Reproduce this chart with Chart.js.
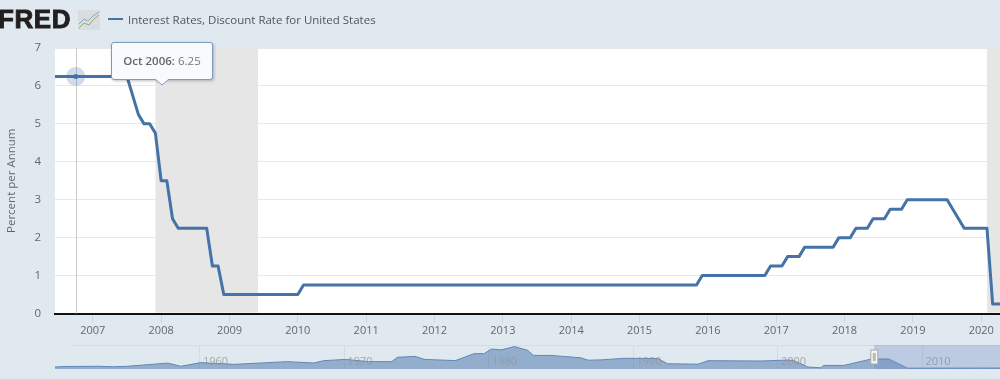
<!DOCTYPE html>
<html><head><meta charset="utf-8">
<style>
html,body{margin:0;padding:0;background:#e1e9f0;width:1000px;height:379px;overflow:hidden}
body{position:relative;font-family:"Open Sans",sans-serif}
canvas{position:absolute;left:0}
.abs{position:absolute;white-space:nowrap}
#logo{left:-2px;top:3px;font:bold 26px "Liberation Sans",sans-serif;line-height:32px;color:#231f20;letter-spacing:.6px;-webkit-text-stroke:.9px #231f20}
#legend{left:128px;top:11px;font-size:11.5px;line-height:17px;color:#555}
#swatch{left:108px;top:18px;width:15px;height:2px;background:#4572a7}
#tip{left:111px;top:42px;width:100px;height:36px;background:#f9fafb;border:1px solid #7d9bc2;border-radius:3px;box-shadow:1px 1px 3px rgba(0,0,0,.25);font-size:11.5px;line-height:35px;color:#777;text-align:center;box-sizing:content-box}
#tip b{font-weight:600;color:#666}
#tipArrow{left:155px;top:74px}
</style></head><body>
<canvas id="main" width="1000" height="379" style="top:0;width:1000px;height:379px"></canvas>
<canvas id="nav" width="1000" height="39" style="top:340px;width:1000px;height:39px"></canvas>
<div class="abs" id="logo">FRED</div>
<svg class="abs" style="left:78px;top:10px" width="22" height="20"><rect width="22" height="20" fill="#d9dde0"/><polyline points="1,14 6,9 10,11 15,6 21,2" fill="none" stroke="#8fa9c4" stroke-width="1"/><polyline points="1,18 6,13 11,15 16,9 21,5" fill="none" stroke="#8fb06a" stroke-width="1"/></svg>
<div class="abs" id="swatch"></div>
<div class="abs" id="legend">Interest Rates, Discount Rate for United States</div>
<div class="abs" id="tip"><b>Oct 2006:</b> 6.25</div>
<svg class="abs" id="tipArrow" width="16" height="12"><polyline points="0,5 7,11 14,5" fill="#f9fafb" stroke="#7d9bc2" stroke-width="1"/><rect x="1" y="0" width="12" height="5" fill="#f9fafb"/></svg>
<script src="https://cdn.jsdelivr.net/npm/chart.js@4"></script>
<script>
const seriesName = 'Interest Rates, Discount Rate for United States';
const yTitle = 'Percent per Annum';
const yTicks = [0,1,2,3,4,5,6,7];
const xTicks = [2007,2008,2009,2010,2011,2012,2013,2014,2015,2016,2017,2018,2019,2020];
const months = ['2006-05','2006-06','2006-07','2006-08','2006-09','2006-10','2006-11','2006-12',
 '2007-01','2007-07','2007-09','2007-10','2007-11','2007-12',
 '2008-01','2008-02','2008-03','2008-04','2008-09','2008-10','2008-11','2008-12',
 '2010-01','2010-02','2015-11','2015-12','2016-11','2016-12',
 '2017-02','2017-03','2017-05','2017-06','2017-11','2017-12',
 '2018-02','2018-03','2018-05','2018-06','2018-08','2018-09','2018-11','2018-12',
 '2019-07','2019-10','2020-02','2020-03','2020-05'];
const rates = [6.25,6.25,6.25,6.25,6.25,6.25,6.25,6.25,
 6.25,6.25,5.25,5,5,4.75,
 3.5,3.5,2.5,2.25,2.25,1.25,1.25,0.5,
 0.5,0.75,0.75,1,1,1.25,
 1.25,1.5,1.5,1.75,1.75,2,
 2,2.25,2.25,2.5,2.5,2.75,2.75,3,
 3,2.25,2.25,0.25,0.25];
const recessionStarts = ['2007-12','2020-02'];
const recessionEnds = ['2009-06','2020-05'];
const hoverMonth = '2006-10';
const hoverValue = 6.25;

const navYears = [1950,1951,1953,1954,1955,1956,1957.8,1958.7,1960.1,1962.4,1966.1,1967.9,1968.6,1970.1,1971.7,1973.3,1973.7,1974.9,1975.6,1977.7,1979,1979.7,1980.2,1980.9,1981.8,1982.7,1983.1,1984.3,1985,1986.4,1986.9,1987.8,1989.4,1991.7,1992.4,1994.5,1995.2,1998.9,2000.7,2001.1,2002.1,2003,2003.2,2004.6,2006.5,2007.7,2009,2015.5];
const navRates = [1.3,1.6,1.7,1.4,1.7,2.4,3.7,1.7,4,2.9,4.6,3.75,5.2,6,4.6,4.6,7.3,7.9,6,5.25,9.6,9.6,12.5,12,14,11.7,8.5,8.5,8,7,5.5,5.7,6.7,6.5,3.3,3,5.2,5,5.6,5.4,1.25,0.75,2.25,2.25,6.25,6.25,0.5,0.6];
const navTicks = [1960,1970,1980,1990,2000,2010];
const navWindowStart = 2006.7;

const toX = s => { const [y,m] = s.split('-').map(Number); return y + (m-1)/12; };
const BLUE = '#4572a7';

const bandsPlugin = {
  id:'bands',
  beforeDraw(c){
    const {ctx,chartArea:a} = c;
    ctx.save(); ctx.fillStyle='#fff';
    ctx.fillRect(a.left,a.top,a.right-a.left,a.bottom-a.top); ctx.restore();
  },
  beforeDatasetsDraw(c){
    const {ctx,chartArea:a,scales:{x}} = c;
    ctx.save();
    ctx.fillStyle='#e6e6e6';
    recessionStarts.forEach((s,i)=>{
      const l=x.getPixelForValue(toX(s)), r=Math.min(x.getPixelForValue(toX(recessionEnds[i])),a.right);
      ctx.fillRect(l,a.top,r-l,a.bottom-a.top-1);
    });
    const hx=Math.round(x.getPixelForValue(toX(hoverMonth)))+0.5;
    ctx.strokeStyle='#ccc'; ctx.lineWidth=1;
    ctx.beginPath(); ctx.moveTo(hx,a.top); ctx.lineTo(hx,a.bottom); ctx.stroke();
    ctx.restore();
  }
};

new Chart(document.getElementById('main'),{
  type:'line',
  data:{datasets:[
    {label:seriesName,data:months.map((m,i)=>({x:toX(m),y:rates[i]})),borderColor:BLUE,borderWidth:3,pointRadius:0,tension:0,order:3,borderJoinStyle:'round'},
    {label:'halo',data:[{x:toX(hoverMonth),y:hoverValue}],pointRadius:9.5,pointBackgroundColor:'rgba(69,114,167,.25)',pointBorderWidth:0,showLine:false,order:2},
    {label:'point',data:[{x:toX(hoverMonth),y:hoverValue}],pointRadius:2.5,pointBackgroundColor:BLUE,pointBorderWidth:0,showLine:false,order:1}
  ]},
  options:{
    responsive:false,animation:false,parsing:false,normalized:true,
    layout:{autoPadding:false,padding:{top:48,left:0,right:0,bottom:0}},
    plugins:{legend:{display:false},tooltip:{enabled:false}},
    scales:{
      x:{type:'linear',min:2006.447,max:2020.274,
        afterBuildTicks:s=>{s.ticks=xTicks.map(v=>({value:v}));},
        afterFit:s=>{s.height=65.5;s.paddingLeft=0;s.paddingRight=0;},
        border:{color:'#111',width:2},
        grid:{drawOnChartArea:false,tickColor:'#c8d6e4',tickLength:9},
        ticks:{autoSkip:false,maxRotation:0,padding:2,color:'#666',font:{family:'"Open Sans"',size:11},callback:v=>String(v)}},
      y:{min:0,max:7,
        afterBuildTicks:s=>{s.ticks=yTicks.map(v=>({value:v}));},
        afterFit:s=>{s.width=55;s.paddingTop=0;s.paddingBottom=0;},
        border:{display:false},
        grid:{color:'#e8e8e8',drawTicks:false},
        ticks:{padding:14,color:'#666',font:{family:'"Open Sans"',size:11.5}},
        title:{display:true,text:yTitle,color:'#666',font:{family:'"Open Sans"',size:11.5},padding:{top:5,bottom:0}}}
    }
  },
  plugins:[bandsPlugin]
});

const navPlugin = {
  id:'navDeco',
  beforeDatasetsDraw(c){
    const {ctx,chartArea:a,scales:{x}} = c;
    ctx.save();
    ctx.strokeStyle='#d3dbe3'; ctx.lineWidth=1;
    ctx.beginPath(); ctx.moveTo(71,a.top+0.5); ctx.lineTo(a.right,a.top+0.5); ctx.stroke();
    navTicks.forEach(t=>{const p=Math.round(x.getPixelForValue(t))+0.5;
      ctx.beginPath(); ctx.moveTo(p,a.top); ctx.lineTo(p,a.bottom); ctx.stroke();});
    ctx.restore();
  },
  afterDatasetsDraw(c){
    const {ctx,chartArea:a,scales:{x}} = c;
    ctx.save();
    ctx.fillStyle='rgba(150,150,150,.8)';
    ctx.font='11px "Open Sans"'; ctx.textAlign='center'; ctx.textBaseline='middle';
    navTicks.forEach(t=>ctx.fillText(String(t),x.getPixelForValue(t)+16,a.top+17));
    const w=x.getPixelForValue(navWindowStart);
    ctx.fillStyle='rgba(102,133,194,.3)';
    ctx.fillRect(w,a.top,a.right-w,a.bottom-a.top);
    ctx.fillStyle='#f4f4f4'; ctx.strokeStyle='#aaa'; ctx.lineWidth=1;
    ctx.fillRect(w-3.5,a.top+5,7,14); ctx.strokeRect(w-3.5,a.top+5,7,14);
    ctx.fillStyle='#bbb'; ctx.fillRect(w-1.5,a.top+8,3,8);
    ctx.restore();
  }
};

new Chart(document.getElementById('nav'),{
  type:'line',
  data:{datasets:[{label:'navigator',data:navYears.map((y,i)=>({x:y,y:navRates[i]})),
    borderColor:'#5f86b8',borderWidth:1,pointRadius:0,tension:0,fill:'origin',backgroundColor:'rgba(69,114,167,.5)'}]},
  options:{
    responsive:false,animation:false,parsing:false,
    layout:{autoPadding:false,padding:{top:5,left:55,right:0,bottom:10}},
    plugins:{legend:{display:false},tooltip:{enabled:false}},
    scales:{x:{type:'linear',display:false,min:1950,max:2015.4},y:{display:false,min:0,max:15}}
  },
  plugins:[navPlugin]
});
</script>
</body></html>
